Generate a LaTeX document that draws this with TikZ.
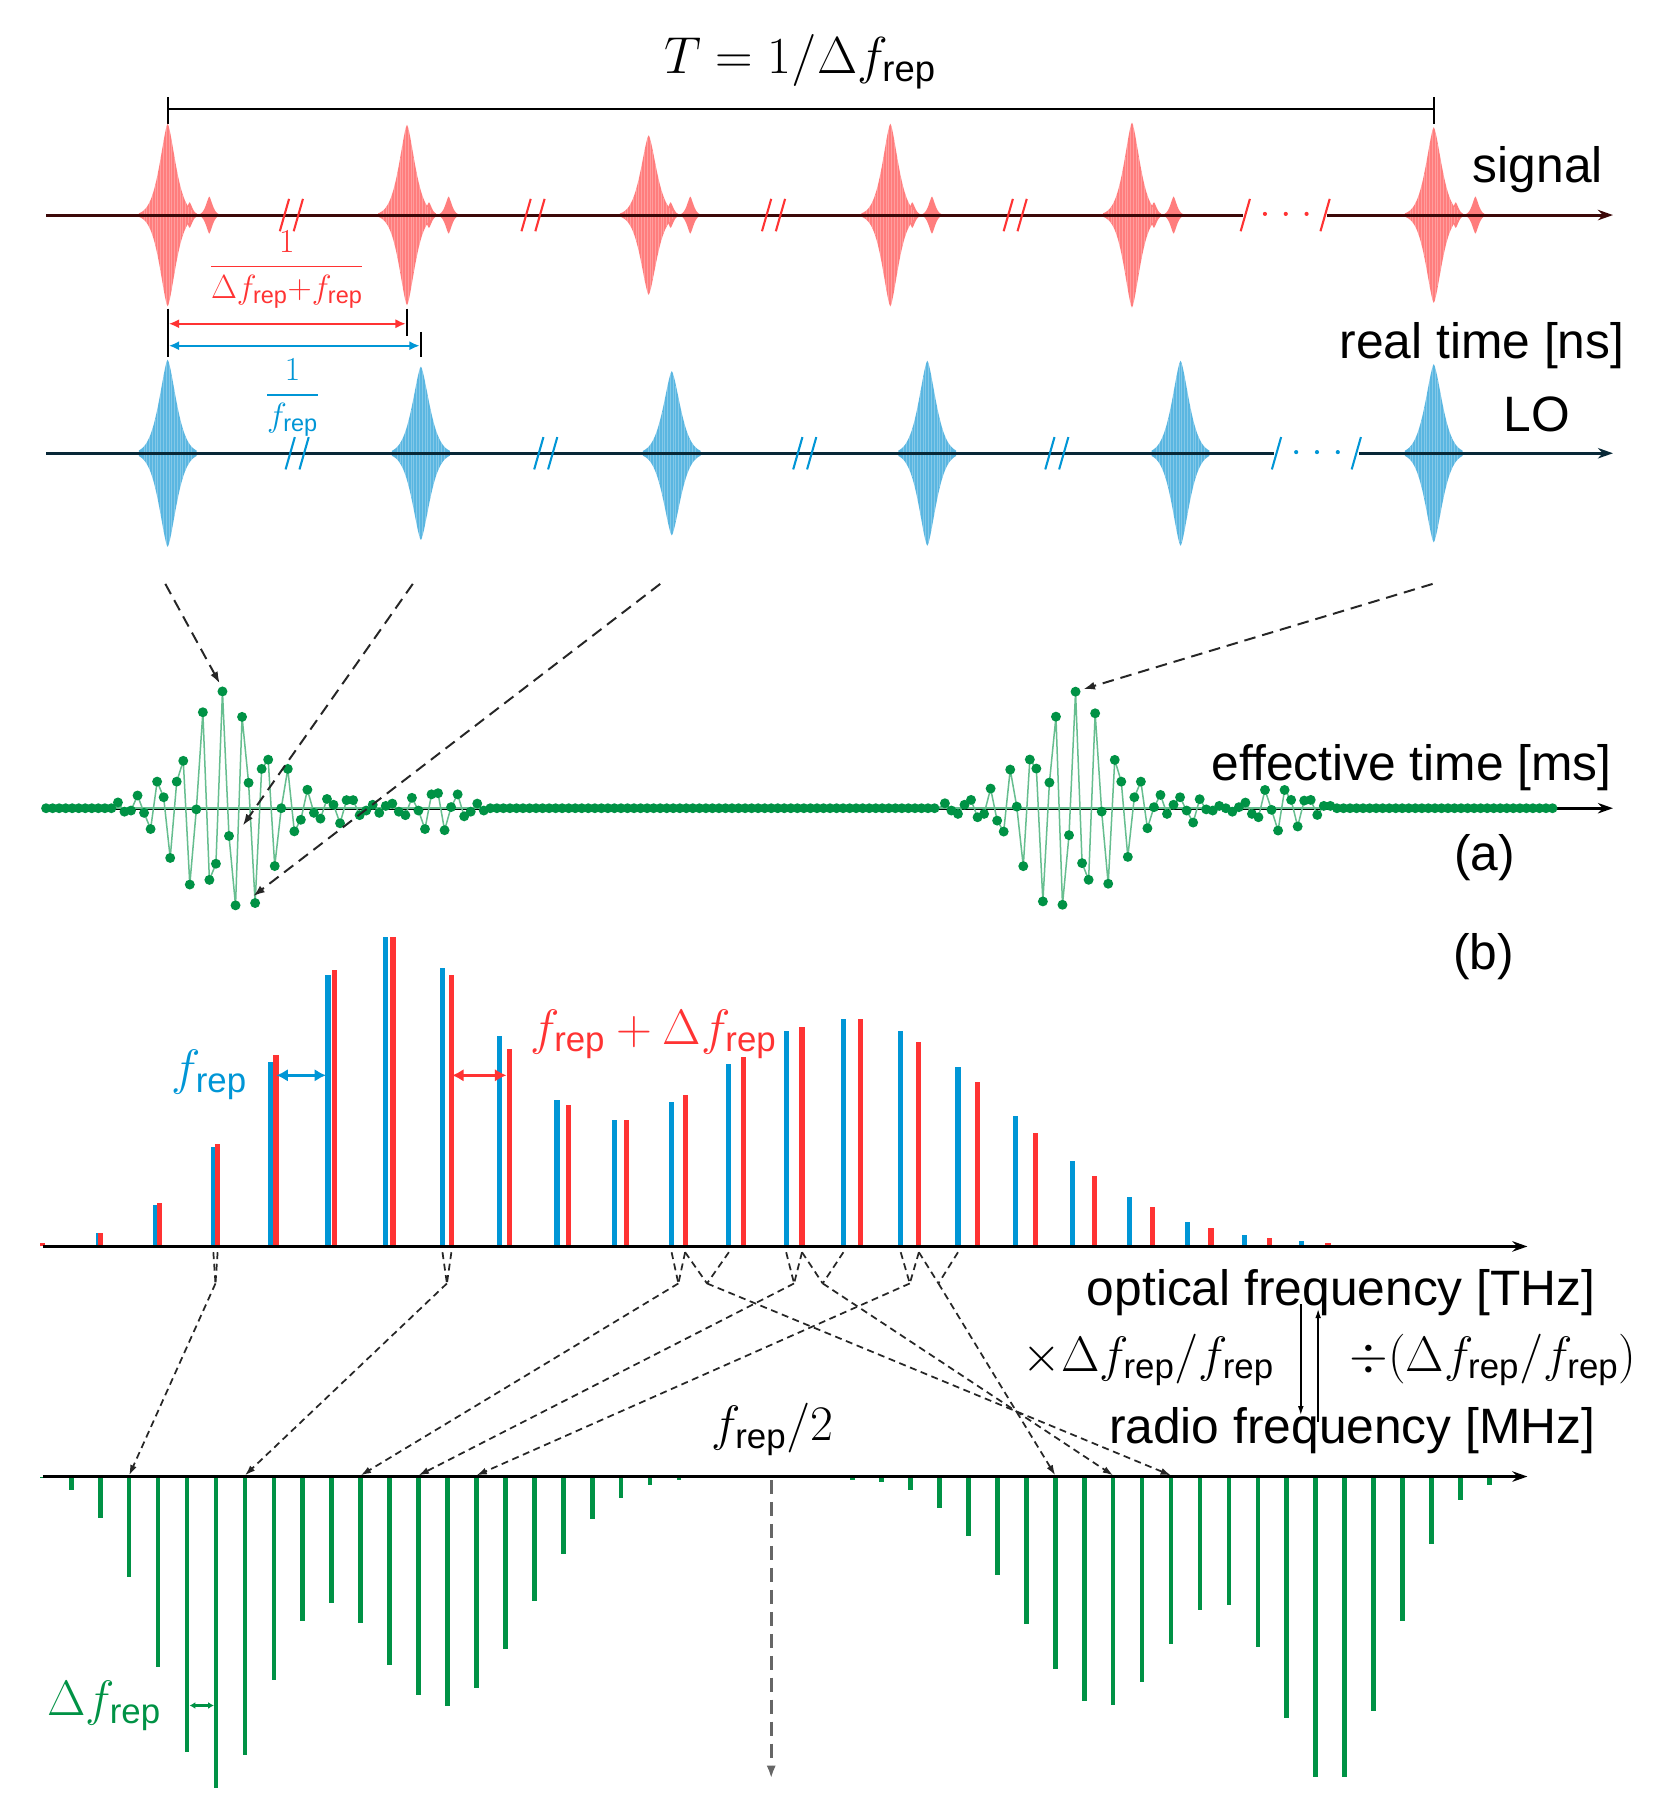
\RequirePackage{fix-cm}
\documentclass[tikz,border=0pt]{standalone}
\usepackage{amsmath}
\usepackage[no-math]{fontspec}
\setmainfont{Liberation Sans}
\usetikzlibrary{arrows.meta}
\definecolor{cred}{RGB}{255,51,51}
\definecolor{cblue}{RGB}{0,150,214}
\definecolor{cgreen}{RGB}{0,146,69}
\definecolor{pred}{RGB}{255,125,125}
\definecolor{pblue}{RGB}{90,182,225}
\definecolor{axred}{RGB}{60,8,8}
\definecolor{axblue}{RGB}{8,40,55}
\newcommand{\frep}{f_{\text{rep}}}
\newcommand{\mypulse}[6]{%
  \fill[#6] plot[domain=-#5:#5,samples=61] ({#1+\x},{#2-#3*exp(-pow(abs(\x)/#4,1.5))})
    -- plot[domain=#5:-#5,samples=61] ({#1+\x},{#2+#3*exp(-pow(abs(\x)/#4,1.5))}) -- cycle;}
\newcommand{\mystripes}[4]{%
  \foreach \ts in {-20.4,-18,...,20.5}{%
    \pgfmathsetmacro\hh{#3*exp(-pow(abs(\ts)/#4,1.5))}%
    \draw[white,opacity=.25,line width=.9pt] ({#1+\ts},{#2-\hh}) -- ({#1+\ts},{#2+\hh});}}
\newcommand{\sigpulse}[2]{%
  \mypulse{#1}{186}{#2}{10}{25}{pred}
  \mypulse{#1+19}{186}{11}{3.5}{7}{pred}
  \mypulse{#1+36}{186}{16}{4}{9}{pred}
  \mystripes{#1}{186}{#2}{10}}
\newcommand{\lopulse}[2]{%
  \mypulse{#1}{392}{#2}{10.8}{25}{pblue}
  \mystripes{#1}{392}{#2}{10.8}}
\newcommand{\mybrk}[3]{%
  \draw[#3,line width=1.8pt] ({#1-10},{#2+14}) -- ({#1-2},{#2-14}) ({#1+2},{#2+14}) -- ({#1+10},{#2-14});}
\def\burstA{-5,3,2,-11,4,18,-23,-9.5,43,-23,-41,66,1,-83,62,48,-101,24,84,-79,-22,82,-34,-42,50,0,-34,20,10,-16,4,9,-8,-3,13,-7,-7,6,2,-3,4,-2,-4,3,6,-9,2,18,-12,-13,19,-1,-12,7,3,-4,2}
\def\burstB{-4.3,2,4.9,-3,-7.2,7.8,4.9,-17,10.7,20.2,-33.4,-1.4,50.1,-42.1,-34.3,80.6,-22.2,-79.2,83.5,23.3,-100.8,47.5,61.9,-82.1,2.9,65.3,-41.8,-23,42.1,-9.5,-23,17.3,-0.9,-11.5,4.9,-3,-9.5,2,12.4,-7.8,1,2,-2,0,3,-0.9,-4.9,4.9,7.8,-15.8,1.4,19.3,-15.8,-7.2,15.8,-6.6,-7.2,5.8,-2,-2}
\begin{document}
\begin{tikzpicture}[x=1pt,y=-1pt,
  every node/.style={inner sep=0pt,font=\fontsize{43}{50}\selectfont},
  tip/.style={-{Stealth[length=13pt,width=9pt]}},
  sigax/.style={axred,line width=2.6pt},
  loax/.style={axblue,line width=2.6pt},
  blkax/.style={black,line width=2.6pt},
  dconn/.style={black!85,line width=1.5pt,dash pattern=on 6pt off 4pt},
  dlo/.style={black!85,line width=1.7pt,dash pattern=on 10pt off 6pt,-{Latex[length=10pt,width=7pt]}},
  glin/.style={cgreen!60,line width=1.3pt},
  dot/.style={cgreen}]
\fill[white] (0,0) rectangle (1441,1568);
\useasboundingbox (0,0) rectangle (1441,1568);

% ---------- T bracket
\coordinate (Ta) at (145,94);
\coordinate (Tb) at (1240,94);
\draw[line width=2pt] (Ta) -- (Tb);
\draw[line width=2pt] (145,84) -- (145,107) (1240,84) -- (1240,107);
\node[anchor=base,font=\fontsize{45}{50}\selectfont] (Tlab) at (692,64) {$T=1/\Delta\frep$};

% ---------- signal pulse train
\foreach \px/\pa in {145/79,352/78,561/69,770/79,979/80,1240/76}{\sigpulse{\px}{\pa}}
\coordinate (sa0) at (40,186);
\coordinate (sa1) at (1075,186);
\coordinate (sa2) at (1148,186);
\coordinate (sa3) at (1395,186);
\draw[sigax] (sa0) -- (sa1);
\draw[sigax,tip] (sa2) -- (sa3);
\foreach \bx in {252,461,669,878}{\mybrk{\bx}{186}{cred}}
\draw[cred,line width=1.8pt] (1073,200) -- (1081,172) (1142,200) -- (1150,172);
\foreach \dx in {1094,1112,1130}{\fill[cred] (\dx,185) circle (1.8);}
\node[anchor=base] (sig) at (1330,158) {signal};

% ---------- period arrows
\draw[line width=2pt] (145,267) -- (145,309) (352,267) -- (352,291) (364,287) -- (364,309);
\coordinate (pr1) at (146,280);
\coordinate (pr2) at (351,280);
\coordinate (pb1) at (146,299);
\coordinate (pb2) at (363,299);
\draw[cred,line width=2pt,{Latex[length=9pt,width=8pt]}-{Latex[length=9pt,width=8pt]}] (pr1) -- (pr2);
\draw[cblue,line width=2pt,{Latex[length=9pt,width=8pt]}-{Latex[length=9pt,width=8pt]}] (pb1) -- (pb2);
\node[cred,font=\fontsize{29}{32}\selectfont] (fracr) at (248,233) {$\dfrac{1}{\Delta\frep{+}\frep}$};
\node[cblue,font=\fontsize{29}{32}\selectfont] (fracb) at (253,344) {$\dfrac{1}{\frep}$};
\node[anchor=base east] (rt) at (1405,310) {real time [ns]};

% ---------- LO pulse train
\foreach \px/\pa in {145/81,364/75,581/71,802/80,1021/80,1240/77}{\lopulse{\px}{\pa}}
\coordinate (la0) at (40,392);
\coordinate (la1) at (1102,392);
\coordinate (la2) at (1175,392);
\coordinate (la3) at (1395,392);
\draw[loax] (la0) -- (la1);
\draw[loax,tip] (la2) -- (la3);
\foreach \bx in {257,472,696,914}{\mybrk{\bx}{392}{cblue}}
\draw[cblue,line width=1.8pt] (1100,406) -- (1108,378) (1169,406) -- (1177,378);
\foreach \dx in {1121,1139,1157}{\fill[cblue] (\dx,391) circle (1.8);}
\node[anchor=base] (lo) at (1329,373) {LO};

% ---------- effective time signal
\coordinate (ea0) at (40,699);
\coordinate (ea1) at (1395,699);
\draw[blkax,tip] (ea0) -- (ea1);
\draw[glin] (37,699) -- (1346,699);
\draw[glin] (96.35,699) \foreach \vv [count=\ii from 0] in \burstA { -- ({102+5.65*\ii},{699+\vv}) } -- (424,699);
\draw[glin] (811.5,699) \foreach \vv [count=\ii from 0] in \burstB { -- ({817.2+5.65*\ii},{699+\vv}) } -- (1156,699);
\foreach \vv [count=\ii from 0] in \burstA {\fill[dot] ({102+5.65*\ii},{699+\vv}) circle (4.3);}
\foreach \vv [count=\ii from 0] in \burstB {\fill[dot] ({817.2+5.65*\ii},{699+\vv}) circle (4.3);}
\foreach \xx in {39.85,45.5,...,97}{\fill[dot] (\xx,699) circle (4.3);}
\foreach \xx in {424.05,429.7,...,812}{\fill[dot] (\xx,699) circle (4.3);}
\foreach \xx in {1156.25,1161.9,...,1347}{\fill[dot] (\xx,699) circle (4.3);}
\node[anchor=base east] (et) at (1394,675) {effective time [ms]};
\node (la) at (1284,742) {(a)};

% LO -> effective time
\coordinate (lo1) at (143,505);
\coordinate (lo2) at (357,505);
\coordinate (lo3) at (571,505);
\coordinate (lo6) at (1239,505);
\coordinate (g1) at (190,591);
\coordinate (g2) at (210,714);
\coordinate (g3) at (219,775);
\coordinate (g4) at (937,596);
\draw[dlo] (lo1) -- (g1);
\draw[dlo] (lo2) -- (g2);
\draw[dlo] (lo3) -- (g3);
\draw[dlo] (lo6) -- (g4);

% ---------- optical comb
\node (lb) at (1283,827) {(b)};
\foreach \kk/\bt/\rt in {0/1078/1075,1/1066/1066,2/1042/1040,3/992/989,4/918.6/912,5/843/839,6/810/810,7/837/843,8/896/907,9/951.6/956,10/969/969,11/953/947,12/920.6/914,13/892/888,14/881/881,15/892/901,16/923/936,17/965/980,18/1004.5/1017,19/1035/1044,20/1057/1062,21/1068/1070.5,22/1073/1075}{
  \pgfmathsetmacro\bx{35.9+49.54*\kk}
  \pgfmathsetmacro\rx{36.6+50.54*\kk}
  \draw[cblue,line width=4.5pt] (\bx,1078) -- (\bx,\bt);
  \draw[cred,line width=4.5pt] (\rx,1078) -- (\rx,\rt);
}
\coordinate (oa0) at (37,1078);
\coordinate (oa1) at (1321,1078);
\draw[blkax,tip] (oa0) -- (oa1);
\coordinate (fb1) at (239,930);
\coordinate (fb2) at (282,930);
\coordinate (fr1) at (391,930);
\coordinate (fr2) at (438,930);
\draw[cblue,line width=3pt,{Latex[length=10pt,width=11pt]}-{Latex[length=10pt,width=11pt]}] (fb1) -- (fb2);
\draw[cred,line width=3pt,{Latex[length=10pt,width=11pt]}-{Latex[length=10pt,width=11pt]}] (fr1) -- (fr2);
\node[cblue,anchor=base] (lfb) at (181,938) {$\frep$};
\node[cred,anchor=base] (lfr) at (565,903) {$\frep+\Delta\frep$};
\node[anchor=base east] (of) at (1380,1129) {optical frequency [THz]};

% ---------- RF comb
\foreach \dd [count=\jj from 0] in {1.5,12,36,87,164.5,238,269,240.5,175.6,125,109,127,163,189.3,198.4,182.6,149.3,107.5,67.3,36.3,18.3,7.2,3,1,0,0,0,1,3,4.7,12,26.8,51.5,84.8,127.2,166.8,193.7,197.8,177.8,144.6,115.5,111.3,147.1,208.9,259.5,259.5,202.5,125,58,20.5,7.2}{
  \draw[cgreen,line width=4pt] ({36.6+25.03*\jj},1277) -- ++(0,\dd);
}
\coordinate (ra0) at (37,1277);
\coordinate (ra1) at (1321,1277);
\draw[blkax,tip] (ra0) -- (ra1);
\node[anchor=base east] (rf) at (1380,1248) {radio frequency [MHz]};
\node[anchor=base] (mul) at (993,1186) {$\times\Delta\frep/\frep$};
\node[anchor=base] (dv) at (1291,1186) {$\div(\Delta\frep/\frep)$};
\coordinate (cd1) at (1125,1128);
\coordinate (cd2) at (1125,1224);
\coordinate (cu1) at (1140,1230);
\coordinate (cu2) at (1140,1132);
\draw[line width=1.3pt,-{Latex[length=8pt,width=5pt]}] (cd1) -- (cd2);
\draw[line width=1.3pt,-{Latex[length=8pt,width=5pt]}] (cu1) -- (cu2);
\node[anchor=base] (half) at (668,1246) {$\frep/2$};
\coordinate (hf1) at (667,1280);
\coordinate (hf2) at (667,1538);
\draw[black!60,line width=2.4pt,dash pattern=on 12pt off 7pt,-{Latex[length=11pt,width=8pt]}] (hf1) -- (hf2);
\node[cgreen,anchor=base] (ldf) at (90,1484) {$\Delta\frep$};
\coordinate (df1) at (164,1475);
\coordinate (df2) at (185,1475);
\draw[cgreen,line width=2pt,{Latex[length=5pt,width=6pt]}-{Latex[length=5pt,width=6pt]}] (df1) -- (df2);

% ---------- optical -> RF connectors
\foreach \kk in {3,7,11,13,15}{
  \pgfmathsetmacro\bx{35.9+49.54*\kk}
  \pgfmathsetmacro\rx{36.6+50.54*\kk}
  \pgfmathsetmacro\vx{(\bx+\rx)/2}
  \pgfmathsetmacro\gx{36.6+25.03*\kk}
  \coordinate (ob\kk) at (\bx,1083);
  \coordinate (or\kk) at (\rx,1083);
  \coordinate (ov\kk) at (\vx,1110);
  \coordinate (rl\kk) at (\gx,1276);
  \draw[dconn] (ob\kk) -- (ov\kk);
  \draw[dconn] (or\kk) -- (ov\kk);
  \draw[dconn,-{Latex[length=9pt,width=6pt]}] (ov\kk) -- (rl\kk);
}
\foreach \kk in {11,13,15}{
  \pgfmathsetmacro\rx{36.6+50.54*\kk}
  \pgfmathsetmacro\bx{35.9+49.54*(\kk+1)}
  \pgfmathsetmacro\wx{(\bx+\rx)/2}
  \pgfmathsetmacro\gx{36.6+25.03*(50-\kk)}
  \coordinate (wr\kk) at (\rx,1083);
  \coordinate (wb\kk) at (\bx,1083);
  \coordinate (ow\kk) at (\wx,1110);
  \coordinate (rr\kk) at (\gx,1276);
  \draw[dconn] (wr\kk) -- (ow\kk);
  \draw[dconn] (wb\kk) -- (ow\kk);
  \draw[dconn,-{Latex[length=9pt,width=6pt]}] (ow\kk) -- (rr\kk);
}
\end{tikzpicture}
\end{document}
